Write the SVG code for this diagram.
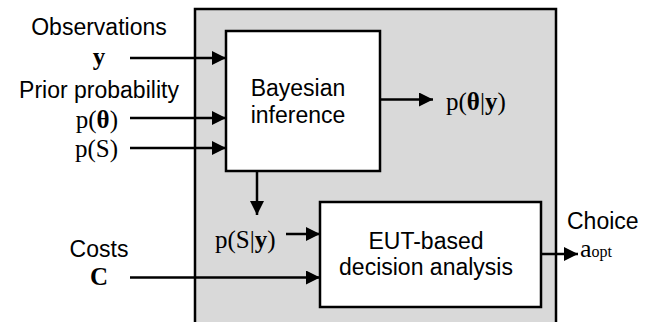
<svg xmlns="http://www.w3.org/2000/svg" width="656" height="322" viewBox="0 0 656 322">
<defs>
<marker id="ah" markerUnits="userSpaceOnUse" markerWidth="15" markerHeight="14" refX="14" refY="7" orient="auto">
<path d="M0,0 L14,7 L0,14 Z" fill="#000"/>
</marker>
<style>
.sans{font-family:"Liberation Sans",Arial,sans-serif;font-size:23px;fill:#000}
.serif{font-family:"Liberation Serif","Times New Roman",serif;font-size:25px;fill:#000}
.b{font-weight:bold}
.box{fill:#fff;stroke:#000;stroke-width:2.5}
.ln{stroke:#000;stroke-width:2.5;fill:none;marker-end:url(#ah)}
</style>
</defs>
<rect width="656" height="322" fill="#fff"/>
<g id="system">
<rect x="195" y="9" width="361" height="330" fill="#d9d9d9" stroke="#000" stroke-width="2.5"/>
</g>
<g id="bayes">
<rect class="box" x="226" y="31" width="154" height="140"/>
<text class="sans" x="298" y="96" text-anchor="middle">Bayesian</text>
<text class="sans" x="298" y="123" text-anchor="middle">inference</text>
</g>
<g id="eut">
<rect class="box" x="320" y="202" width="221" height="105"/>
<text class="sans" x="426" y="249" text-anchor="middle">EUT-based</text>
<text class="sans" x="426" y="275" text-anchor="middle">decision analysis</text>
</g>
<g id="labels">
<text class="sans" x="99" y="35" text-anchor="middle">Observations</text>
<text class="serif b" x="99" y="65" text-anchor="middle">y</text>
<text class="sans" x="99" y="98" text-anchor="middle">Prior probability</text>
<text class="serif" x="118" y="128" text-anchor="end">p(<tspan class="b">θ</tspan>)</text>
<text class="serif" x="118" y="157" text-anchor="end">p(S)</text>
<text class="sans" x="99" y="257" text-anchor="middle">Costs</text>
<text class="serif b" x="99" y="285" text-anchor="middle">C</text>
<text class="serif" x="446" y="110">p(<tspan class="b">θ</tspan>|<tspan class="b">y</tspan>)</text>
<text class="serif" x="215" y="248">p(S|<tspan class="b">y</tspan>)</text>
<text class="sans" x="567" y="229">Choice</text>
<text class="serif" x="580" y="257"><tspan font-size="26">a</tspan><tspan font-size="16">opt</tspan></text>
</g>
<g id="connectors">
<line class="ln" x1="130" y1="58" x2="226" y2="58"/>
<line class="ln" x1="130" y1="118" x2="226" y2="118"/>
<line class="ln" x1="130" y1="148" x2="226" y2="148"/>
<line class="ln" x1="380" y1="99.5" x2="433" y2="99.5"/>
<line class="ln" x1="257" y1="171" x2="257" y2="215"/>
<line class="ln" x1="286" y1="234" x2="320" y2="234"/>
<line class="ln" x1="130" y1="277.5" x2="320" y2="277.5"/>
<line class="ln" x1="541" y1="254" x2="578" y2="254"/>
</g>
</svg>
